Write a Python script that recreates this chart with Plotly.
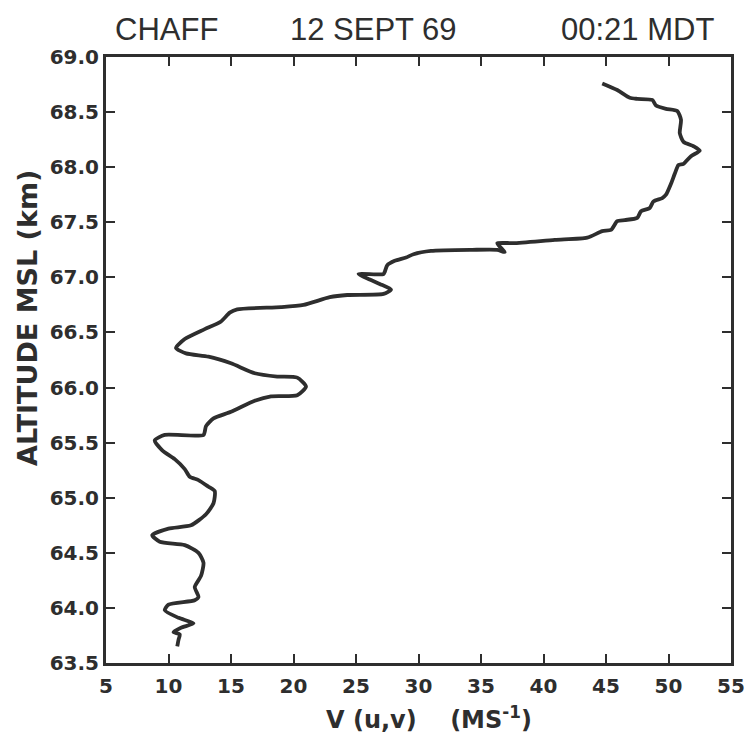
import plotly.graph_objects as go

# Wind speed V (m/s) vs altitude (km), traced from the profile
speed = [44.7, 45.9, 46.9, 47.5, 48.7, 49.0, 49.8, 50.7, 51.0, 50.9, 51.2, 52.0, 52.5, 51.8, 51.2, 50.8,
         50.5, 50.2, 49.8, 49.5, 48.8, 48.5, 47.8, 47.5, 46.5, 45.9, 45.4, 44.7, 43.5, 40.9, 37.6, 36.3,
         36.9, 36.3, 34.3, 31.0, 29.6, 29.0, 28.1, 27.5, 27.3, 27.2, 25.2, 26.1, 26.9, 27.8, 27.2, 24.3,
         22.9, 20.8, 19.0, 15.5, 14.9, 14.2, 12.9, 11.3, 10.6, 11.4, 13.2, 15.0, 16.9, 18.7, 20.3, 21.0,
         20.3, 18.2, 16.9, 15.0, 13.6, 13.0, 12.8, 9.7, 8.9, 9.5, 10.5, 11.3, 11.7, 12.4, 13.2, 13.7,
         13.6, 13.0, 11.8, 10.0, 8.7, 9.3, 11.3, 12.4, 12.8, 12.6, 12.1, 12.4, 12.1, 10.0, 9.7, 10.8,
         12.0, 11.0, 10.4, 10.9, 10.8, 10.7]
altitude = [68.76, 68.70, 68.63, 68.62, 68.61, 68.56, 68.53, 68.51, 68.43, 68.31, 68.23, 68.19, 68.15, 68.10, 68.03, 68.02,
            67.94, 67.85, 67.75, 67.72, 67.69, 67.63, 67.60, 67.54, 67.52, 67.51, 67.43, 67.42, 67.36, 67.34, 67.31, 67.31,
            67.23, 67.25, 67.25, 67.24, 67.21, 67.18, 67.15, 67.11, 67.05, 67.03, 67.03, 66.98, 66.94, 66.89, 66.85, 66.84,
            66.82, 66.75, 66.73, 66.71, 66.68, 66.60, 66.53, 66.44, 66.36, 66.31, 66.28, 66.22, 66.13, 66.10, 66.09, 66.01,
            65.93, 65.92, 65.88, 65.78, 65.72, 65.65, 65.57, 65.57, 65.52, 65.43, 65.35, 65.26, 65.19, 65.16, 65.10, 65.06,
            64.95, 64.85, 64.75, 64.72, 64.66, 64.60, 64.57, 64.50, 64.41, 64.29, 64.19, 64.10, 64.07, 64.03, 63.98, 63.91,
            63.86, 63.82, 63.78, 63.76, 63.71, 63.65]

x_ticks = [5, 10, 15, 20, 25, 30, 35, 40, 45, 50, 55]
y_ticks = [63.5, 64.0, 64.5, 65.0, 65.5, 66.0, 66.5, 67.0, 67.5, 68.0, 68.5, 69.0]
y_labels = ["%.1f" % v for v in y_ticks]

W, H = 754, 741
OFF = 8  # page body margin offset
ML, MR, MT, MB = 106 - OFF, 31, 57 - OFF, 86
PW, PH = W - ML - MR, H - MT - MB


def px(xs):
    return (xs - OFF - ML) / PW


def py(ys):
    return (H - MB - (ys - OFF)) / PH


ink = "#2e2e2e"
tick_font = dict(family="DejaVu Sans", size=20, color=ink, weight="bold")

fig = go.Figure()
fig.add_trace(go.Scatter(x=speed, y=altitude, mode="lines",
                         line=dict(color=ink, width=3.8, shape="spline", smoothing=0.6),
                         hoverinfo="skip", showlegend=False))

fig.update_layout(
    width=W, height=H,
    margin=dict(l=ML, r=MR, t=MT, b=MB),
    paper_bgcolor="white", plot_bgcolor="white",
    xaxis=dict(range=[5, 55], tickvals=x_ticks, ticktext=[str(v) for v in x_ticks],
               showgrid=False, zeroline=False, showline=True, linecolor=ink, linewidth=3,
               mirror="allticks", ticks="inside", ticklen=9, tickwidth=2, tickcolor=ink,
               tickfont=tick_font, ticklabelstandoff=3),
    yaxis=dict(range=[63.5, 69.0], tickvals=y_ticks, ticktext=y_labels,
               showgrid=False, zeroline=False, showline=True, linecolor=ink, linewidth=3,
               mirror="allticks", ticks="inside", ticklen=9, tickwidth=2, tickcolor=ink,
               tickfont=tick_font),
)

title_font = dict(family="Liberation Sans Narrow, Liberation Sans", size=31, color=ink)
for txt, xs in [("CHAFF", 166), ("12 SEPT 69", 373), ("00:21 MDT", 637)]:
    fig.add_annotation(text=txt, x=px(xs), y=py(29), xref="paper", yref="paper",
                       showarrow=False, font=title_font, xanchor="center", yanchor="middle")

fig.add_annotation(text="ALTITUDE MSL (km)", xref="paper", yref="paper",
                   x=px(27), y=py(318), textangle=-90, showarrow=False,
                   font=dict(family="DejaVu Sans", size=27, color=ink, weight="bold"),
                   xanchor="center", yanchor="middle")
fig.add_annotation(text="V (u,v)&nbsp;&nbsp;&nbsp;&nbsp;(MS<sup>-1</sup>)", xref="paper", yref="paper",
                   x=px(429), y=py(718), showarrow=False,
                   font=dict(family="DejaVu Sans", size=24, color=ink, weight="bold"),
                   xanchor="center", yanchor="middle")

fig.write_html("out.html")
